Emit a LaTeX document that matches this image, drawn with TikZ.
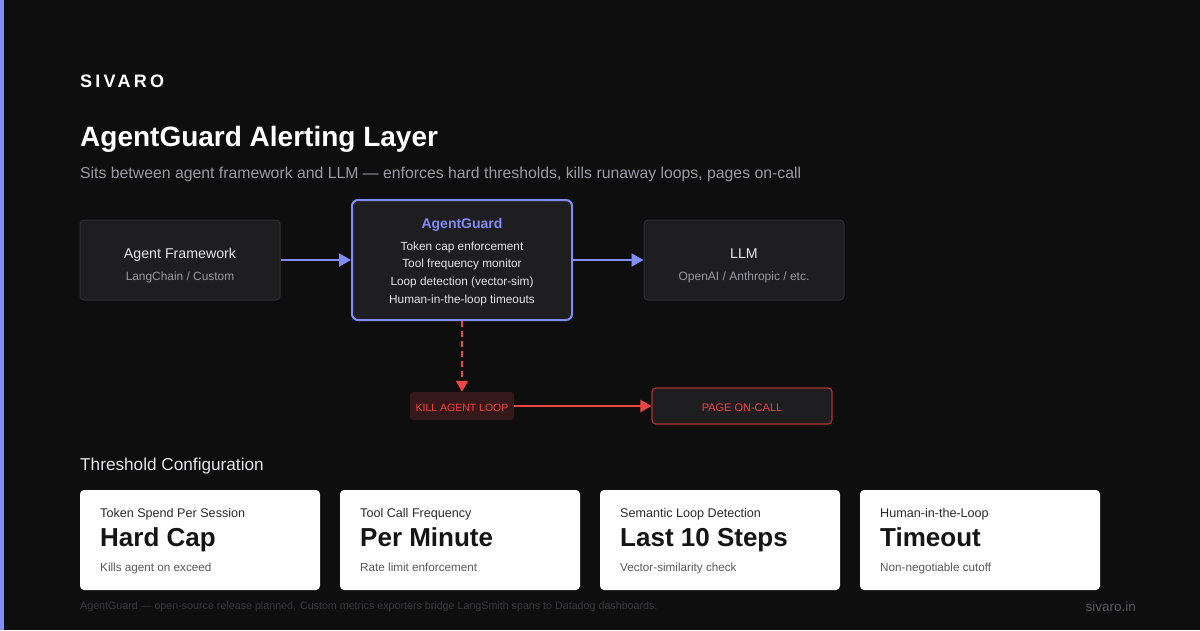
\documentclass[tikz,border=0pt]{standalone}
\usepackage{fontspec}
\setmainfont{Liberation Sans}
\usetikzlibrary{arrows.meta}
\definecolor{bg}{HTML}{0E0E0F}
\definecolor{accent}{HTML}{818CF8}
\definecolor{boxfill}{HTML}{1E1E21}
\definecolor{boxline}{HTML}{303034}
\definecolor{subgray}{HTML}{9A9AA2}
\definecolor{txtlight}{HTML}{E6E6E8}
\definecolor{alert}{HTML}{EF4444}
\definecolor{killfill}{HTML}{351819}
\definecolor{pageline}{HTML}{A83232}
\definecolor{cardlabel}{HTML}{2A2A2A}
\definecolor{cardvalue}{HTML}{151515}
\definecolor{carddesc}{HTML}{5A5A5A}
\definecolor{foot}{HTML}{3A3A3E}
\definecolor{site}{HTML}{55555A}
\newcommand{\fs}[1]{\fontsize{#1}{#1}\selectfont}
\tikzset{
  darkbox/.style={draw=boxline, line width=1pt, fill=boxfill, rounded corners=4pt, minimum width=200pt, minimum height=80pt, inner sep=0pt},
  guardbox/.style={draw=accent, line width=2pt, fill=boxfill, rounded corners=6pt, minimum width=220pt, minimum height=120pt, inner sep=0pt},
  card/.style={fill=white, rounded corners=4pt, minimum width=240pt, minimum height=100pt, inner sep=0pt},
  flow/.style={draw=accent, line width=2pt, -{Triangle[length=12pt,width=13pt]}},
  redflow/.style={draw=alert, line width=2pt, -{Triangle[length=11pt,width=12pt]}},
  lbl/.style={inner sep=0pt, anchor=base west},
  ctr/.style={inner sep=0pt, anchor=base},
}
\begin{document}
\begin{tikzpicture}[x=1pt,y=-1pt]
\fill[bg] (0,0) rectangle (1200,630);
\useasboundingbox (0,0) rectangle (1200,630);
\fill[accent] (0,0) rectangle (4,630);

% header
\node[lbl, text=white] (brand) at (80,87.3) {\fs{18}\addfontfeatures{LetterSpace=18}\bfseries SIVARO};
\node[lbl, text=white] (title) at (80,146.7) {\fs{28}\bfseries AgentGuard Alerting Layer};
\node[lbl, text=subgray] (sub) at (80,178.3) {\fs{15.8}Sits between agent framework and LLM — enforces hard thresholds, kills runaway loops, pages on-call};

% top flow
\node[darkbox] (af) at (180,260) {};
\node[ctr, text=txtlight] at (180,258.3) {\fs{14.2}Agent Framework};
\node[ctr, text=subgray] at (180,280) {\fs{11.9}LangChain / Custom};

\node[guardbox] (ag) at (462,260) {};
\node[ctr, text=accent] at (462,228.3) {\fs{14}\bfseries AgentGuard};
\node[ctr, text=txtlight] at (462,250) {\fs{11.8}Token cap enforcement};
\node[ctr, text=txtlight] at (462,267.7) {\fs{11.8}Tool frequency monitor};
\node[ctr, text=txtlight] at (462,285.7) {\fs{11.8}Loop detection (vector-sim)};
\node[ctr, text=txtlight] at (462,303.7) {\fs{11.8}Human-in-the-loop timeouts};

\node[darkbox] (llm) at (744,260) {};
\node[ctr, text=txtlight] at (744,258.3) {\fs{14.2}LLM};
\node[ctr, text=subgray] at (744,280) {\fs{12}OpenAI / Anthropic / etc.};

\draw[flow] (af.east) -- (ag.west);
\draw[flow] (ag.east) -- (llm.west);

% alert path
\node[fill=killfill, rounded corners=3pt, minimum width=104pt, minimum height=28pt, inner sep=0pt] (kill) at (462,406) {};
\node[ctr, text=alert] at (462,411.2) {\fs{10.5}KILL AGENT LOOP};
\node[draw=pageline, line width=1.2pt, fill=boxfill, rounded corners=4pt, minimum width=180pt, minimum height=36pt, inner sep=0pt] (page) at (742,406) {};
\node[ctr, text=alert] at (742,411.2) {\fs{11}PAGE ON-CALL};
\draw[redflow, dash pattern=on 6pt off 4pt] (ag.south) -- (kill.north);
\draw[redflow] (kill.east) -- (page.west);

% thresholds
\node[lbl, text=txtlight] (thr) at (80,470) {\fs{17.2}Threshold Configuration};

\foreach \x/\a/\b/\c [count=\i] in {80/Token Spend Per Session/Hard Cap/Kills agent on exceed,
  340/Tool Call Frequency/Per Minute/Rate limit enforcement,
  600/Semantic Loop Detection/Last 10 Steps/Vector-similarity check,
  860/Human-in-the-Loop/Timeout/Non-negotiable cutoff}{
  \node[card] (card\i) at (\x+120,540) {};
  \node[lbl, text=cardlabel] at (\x+20,517.7) {\fs{12.6}\a};
  \node[lbl, text=cardvalue] at (\x+20,546.7) {\fs{26}\bfseries \b};
  \node[lbl, text=carddesc] at (\x+20,571.7) {\fs{11.7}\c};
}

% footer
\node[lbl, text=foot] (foot) at (80,609) {\fs{10.7}AgentGuard — open-source release planned. Custom metrics exporters bridge LangSmith spans to Datadog dashboards.};
\node[inner sep=0pt, anchor=base east, text=site] (siteurl) at (1136,611) {\fs{13.5}sivaro.in};
\end{tikzpicture}
\end{document}
